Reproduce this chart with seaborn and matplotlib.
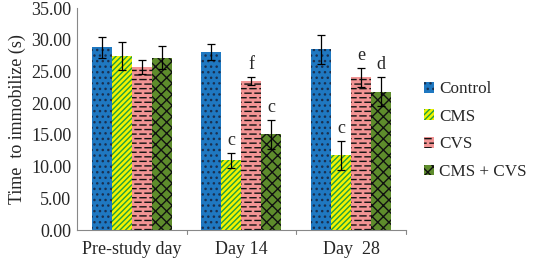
import matplotlib
matplotlib.use("Agg")
import matplotlib.pyplot as plt
import seaborn as sns
import pandas as pd
import numpy as np
from matplotlib import hatch as mhatch
from matplotlib.path import Path
from matplotlib.patches import Patch

days = ["Pre-study day", "Day 14", "Day  28"]
groups = ["Control", "CMS", "CVS", "CMS + CVS"]
control = [28.8, 28.1, 28.5]
cms = [27.4, 11.0, 11.8]
cvs = [25.7, 23.5, 24.1]
cms_cvs = [27.2, 15.1, 21.8]
control_err = [1.6, 1.3, 2.3]
cms_err = [2.2, 1.2, 2.3]
cvs_err = [1.1, 0.7, 1.5]
cms_cvs_err = [1.8, 2.3, 2.3]
letters_cms = ["", "c", "c"]
letters_cvs = ["", "f", "e"]
letters_cms_cvs = ["", "c", "d"]
yticks = [0, 5, 10, 15, 20, 25, 30, 35]


class ShortDashHatch(mhatch.HatchPatternBase):
    """Staggered short horizontal dashes, selected by '_' in the hatch string."""
    def __init__(self, hatch, density):
        n = hatch.count('_')
        self.rows = 22 * n if n else 0
        self.per_row = 10
        self.num_vertices = self.rows * self.per_row * 2

    def set_vertices_and_codes(self, vertices, codes):
        k = 0
        dy = 1.0 / self.rows
        dx = 1.0 / self.per_row
        ln = dx * 0.6
        for r in range(self.rows):
            y = (r + 0.5) * dy
            off = (dx / 2) if (r % 2) else 0.0
            for c in range(self.per_row):
                x0 = (c * dx + off) % 1.0
                x1 = min(x0 + ln, 1.0)
                vertices[k] = (x0, y)
                vertices[k + 1] = (x1, y)
                codes[k] = Path.MOVETO
                codes[k + 1] = Path.LINETO
                k += 2


mhatch._hatch_types.append(ShortDashHatch)
try:
    import matplotlib.hatch as _h
    if hasattr(_h, "_valid_hatch_patterns"):
        _h._valid_hatch_patterns = set(_h._valid_hatch_patterns) | {"_"}
except Exception:
    pass

sns.set_style("white")
plt.rcParams['font.family'] = ['Liberation Serif', 'DejaVu Serif']
plt.rcParams['hatch.linewidth'] = 1.0

rows = []
for g, vals in zip(groups, [control, cms, cvs, cms_cvs]):
    for d, v in zip(days, vals):
        rows.append({"day": d, "group": g, "value": v})
df = pd.DataFrame(rows)

face = {"Control": "#1f78c1", "CMS": "#f2f200", "CVS": "#f29494", "CMS + CVS": "#5e8c2c"}
hatch = {"Control": "...", "CMS": "//////", "CVS": "_", "CMS + CVS": "xxx"}
hcol = {"Control": "#1a3050", "CMS": "#1ea040", "CVS": "#111111", "CMS + CVS": "#111111"}
errs = {"Control": control_err, "CMS": cms_err, "CVS": cvs_err, "CMS + CVS": cms_cvs_err}
letters = {"Control": ["", "", ""], "CMS": letters_cms, "CVS": letters_cvs, "CMS + CVS": letters_cms_cvs}

fig = plt.figure(figsize=(5.33, 2.62), dpi=100)
ax = fig.add_axes([0.1445, 0.122, 0.617, 0.847])
sns.barplot(data=df, x="day", y="value", hue="group", order=days, hue_order=groups,
            palette=face, errorbar=None, width=0.73, ax=ax, saturation=1, legend=False)

for gi, g in enumerate(groups):
    cont = ax.containers[gi]
    for di, p in enumerate(cont.patches):
        p.set_hatch(hatch[g])
        p.set_edgecolor(hcol[g])
        p.set_linewidth(0)
        cx = p.get_x() + p.get_width() / 2
        top = p.get_height()
        ax.errorbar(cx, top, yerr=errs[g][di], fmt="none", ecolor="black",
                    elinewidth=0.9, capsize=3, capthick=0.9, zorder=5)
        if letters[g][di]:
            ax.text(cx, top + errs[g][di] + 0.6, letters[g][di], ha="center", va="bottom",
                    fontsize=13)

ax.set_ylim(0, 35)
ax.set_yticks(yticks)
ax.set_yticklabels([f"{t:.2f}" for t in yticks], fontsize=13)
ax.set_xlim(-0.5, 2.5)
ax.set_xticks([0, 1, 2])
ax.set_xticklabels(days, fontsize=13)
ax.set_xlabel("")
ax.set_ylabel("Time  to immobilize (s)", fontsize=13, labelpad=4)
ax.tick_params(axis="x", length=0, pad=8)
ax.tick_params(axis="y", length=0, pad=4)
for s in ["top", "right"]:
    ax.spines[s].set_visible(False)
for s in ["left", "bottom"]:
    ax.spines[s].set_color("#888888")
    ax.spines[s].set_linewidth(0.8)
for xs in [0.5, 1.5, 2.5]:
    ax.plot([xs, xs], [0, -0.6], color="#888888", lw=0.8, clip_on=False)

handles = [Patch(facecolor=face[g], edgecolor=hcol[g], hatch=hatch[g], linewidth=0) for g in groups]
fig.legend(handles, groups, loc="upper left", bbox_to_anchor=(0.795, 0.69), frameon=False,
           fontsize=12.3, handlelength=0.6, handleheight=0.6, labelspacing=0.68,
           handletextpad=0.3, borderaxespad=0, borderpad=0)

fig.savefig("out.png", dpi=100)
